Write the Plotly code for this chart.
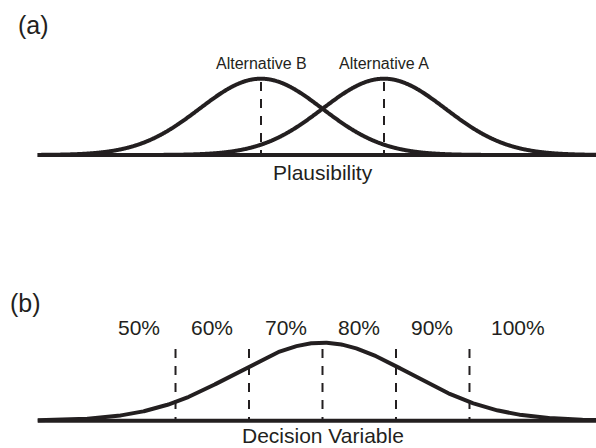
import numpy as np
import plotly.graph_objects as go

# ---- data (in units of the plausibility standard deviation) ----
alt_names = ["Alternative B", "Alternative A"]
alt_means = [-1.0, 1.0]
alt_sigma = 1.0
alt_dash_top = [0.957, 0.957]

dv_mean = 0.0
dv_sigma = np.sqrt(2.0)
dv_criteria = [-2.39, -1.195, 0.0, 1.195, 2.39]
dv_dash_top = 0.919
pct_labels = ["50%", "60%", "70%", "80%", "90%", "100%"]
pct_label_x = [-2.984, -1.797, -0.598, 0.598, 1.785, 3.179]

axis_start = -4.63
axis_end = 6.0

W, H = 596, 448
INK = "#231f20"
FONT = "Liberation Sans, Arial, Helvetica, sans-serif"

# pixel geometry helpers
px_per_unit = 61.5
x_center_px = 322.5
x_range = [(0 - x_center_px) / px_per_unit, (W - x_center_px) / px_per_unit]


def ydomain(zero_px, unit_px, yr):
    lo = zero_px - yr[0] * unit_px
    hi = zero_px - yr[1] * unit_px
    return [1 - lo / H, 1 - hi / H]


top_yr = [-0.4, 1.5]
bot_yr = [-0.3, 1.4]
top_dom = ydomain(155.0, 76.3, top_yr)
bot_dom = ydomain(420.7, 78.0, bot_yr)

fig = go.Figure()

xs = np.linspace(axis_start, x_range[1] + 0.5, 800)

# top panel
fig.add_trace(go.Scatter(x=[axis_start, axis_end], y=[0, 0], mode="lines",
                         line=dict(color=INK, width=4), xaxis="x", yaxis="y",
                         hoverinfo="skip"))
for m, dtop in zip(alt_means, alt_dash_top):
    fig.add_trace(go.Scatter(x=[m, m], y=[dtop, 0], mode="lines",
                             line=dict(color=INK, width=2, dash="9px,8px"),
                             xaxis="x", yaxis="y", hoverinfo="skip"))
for m in alt_means:
    ys = np.exp(-0.5 * ((xs - m) / alt_sigma) ** 2)
    fig.add_trace(go.Scatter(x=xs, y=ys, mode="lines",
                             line=dict(color=INK, width=4, shape="spline"),
                             xaxis="x", yaxis="y", hoverinfo="skip"))

# bottom panel
fig.add_trace(go.Scatter(x=[axis_start, axis_end], y=[0, 0], mode="lines",
                         line=dict(color=INK, width=4), xaxis="x2", yaxis="y2",
                         hoverinfo="skip"))
for c in dv_criteria:
    fig.add_trace(go.Scatter(x=[c, c], y=[dv_dash_top, 0], mode="lines",
                             line=dict(color=INK, width=2, dash="9px,8px"),
                             xaxis="x2", yaxis="y2", hoverinfo="skip"))
ys = np.exp(-0.5 * ((xs - dv_mean) / dv_sigma) ** 2)
fig.add_trace(go.Scatter(x=xs, y=ys, mode="lines",
                         line=dict(color=INK, width=4),
                         xaxis="x2", yaxis="y2", hoverinfo="skip"))

ann = []
for name, m in zip(alt_names, alt_means):
    ann.append(dict(x=m, y=1.193, xref="x", yref="y", text=name, showarrow=False,
                    font=dict(size=16, color=INK, family=FONT),
                    xanchor="center", yanchor="middle"))
ann.append(dict(x=0, y=-0.229, xref="x", yref="y", text="Plausibility",
                showarrow=False, font=dict(size=21, color=INK, family=FONT),
                xanchor="center", yanchor="middle"))
for lab, lx in zip(pct_labels, pct_label_x):
    ann.append(dict(x=lx, y=1.197, xref="x2", yref="y2", text=lab, showarrow=False,
                    font=dict(size=21, color=INK, family=FONT),
                    xanchor="center", yanchor="middle"))
ann.append(dict(x=0, y=-0.196, xref="x2", yref="y2", text="Decision Variable",
                showarrow=False, font=dict(size=21, color=INK, family=FONT),
                xanchor="center", yanchor="middle"))
ann.append(dict(x=33 / W, y=1 - 25 / H, xref="paper", yref="paper", text="(a)",
                showarrow=False, font=dict(size=25, color=INK, family=FONT),
                xanchor="center", yanchor="middle"))
ann.append(dict(x=25 / W, y=1 - 303 / H, xref="paper", yref="paper", text="(b)",
                showarrow=False, font=dict(size=25, color=INK, family=FONT),
                xanchor="center", yanchor="middle"))

hidden = dict(visible=False, fixedrange=True)
fig.update_layout(
    width=W, height=H,
    margin=dict(l=0, r=0, t=0, b=0),
    paper_bgcolor="white", plot_bgcolor="white",
    showlegend=False,
    xaxis=dict(domain=[0, 1], range=x_range, anchor="y", **hidden),
    yaxis=dict(domain=top_dom, range=top_yr, anchor="x", **hidden),
    xaxis2=dict(domain=[0, 1], range=x_range, anchor="y2", **hidden),
    yaxis2=dict(domain=bot_dom, range=bot_yr, anchor="x2", **hidden),
    annotations=ann,
)

fig.write_html("out.html", config={"displayModeBar": False})
